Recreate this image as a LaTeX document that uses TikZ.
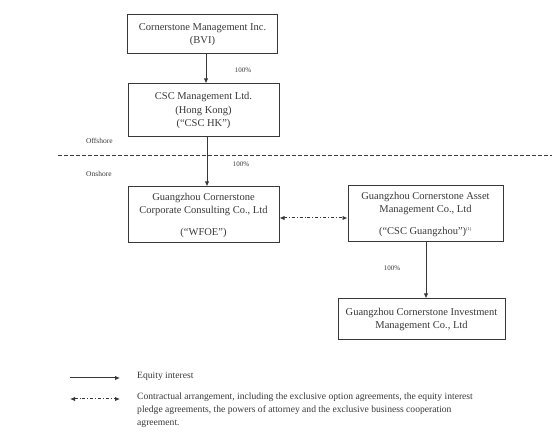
\documentclass[tikz,border=0pt]{standalone}
\usepackage{fontspec}
\setmainfont{Liberation Serif}
\usetikzlibrary{arrows.meta}
\definecolor{ink}{HTML}{383838}
\begin{document}
\begin{tikzpicture}[x=1pt,y=-1pt,
  ent/.style={draw=ink,line width=1pt,text=ink,font=\fontsize{10.5}{13.5}\selectfont,align=center,inner sep=0pt},
  lbl/.style={text=ink,font=\fontsize{7}{8}\selectfont,inner sep=0pt},
  side/.style={text=ink,font=\fontsize{7.5}{8}\selectfont,inner sep=0pt,anchor=west},
  eq/.style={draw=ink,line width=1pt,-{Latex[length=5pt,width=4.5pt]}},
  ctr/.style={draw=ink,line width=1pt,dash pattern=on 3pt off 2pt on 0.8pt off 2pt,{Latex[length=5pt,width=4.5pt]}-{Latex[length=5pt,width=4.5pt]}},
  leg/.style={text=ink,font=\fontsize{9.6}{13}\selectfont,inner sep=0pt,anchor=north west,align=left}]
\useasboundingbox (0,0) rectangle (558,438);
\node[ent,minimum width=150pt,minimum height=39pt] (bvi) at (202.5,34.5) {Cornerstone Management Inc.\\(BVI)};
\node[ent,minimum width=151pt,minimum height=53pt] (hk) at (203.5,110.5) {CSC Management Ltd.\\(Hong Kong)\\(“CSC HK”)};
\node[ent,minimum width=151pt,minimum height=56pt] (wfoe) at (203.5,215) {Guangzhou Cornerstone\\Corporate Consulting Co., Ltd\\[8pt](“WFOE”)};
\node[ent,minimum width=155pt,minimum height=56pt] (cscg) at (425.5,214) {Guangzhou Cornerstone Asset\\Management Co., Ltd\\[8pt](“CSC Guangzhou”)\textsuperscript{\fontsize{4.5}{4.5}\selectfont (1)}};
\node[ent,minimum width=167pt,minimum height=41pt] (inv) at (421.5,319.5) {Guangzhou Cornerstone Investment\\Management Co., Ltd};
\draw[eq] (bvi.south -| 206,0) -- (hk.north -| 206,0);
\draw[eq] (hk.south -| 207,0) -- (wfoe.north -| 207,0);
\draw[eq] (cscg.south -| 426,0) -- (inv.north -| 426,0);
\draw[ctr] (wfoe.east |- 0,218) -- (cscg.west |- 0,218);
\node[lbl] (p1) at (243,70) {100\%};
\node[lbl] (p2) at (241,164) {100\%};
\node[lbl] (p3) at (392,268) {100\%};
\node[side] (off) at (86,141) {Offshore};
\node[side] (on) at (86,174) {Onshore};
\coordinate (dl) at (58,155);
\coordinate (dr) at (552,155);
\draw[draw=ink,line width=0.8pt,dash pattern=on 3.5pt off 2.5pt] (dl) -- (dr);
\coordinate (a1) at (70,378);
\coordinate (a2) at (120,378);
\coordinate (b1) at (70,399);
\coordinate (b2) at (120,399);
\draw[eq] (a1) -- (a2);
\draw[ctr] (b1) -- (b2);
\node[leg] (t1) at (137,372) {Equity interest};
\node[leg] (t2) at (137,393) {Contractual arrangement, including the exclusive option agreements, the equity interest\\pledge agreements, the powers of attorney and the exclusive business cooperation\\agreement.};
\end{tikzpicture}
\end{document}
